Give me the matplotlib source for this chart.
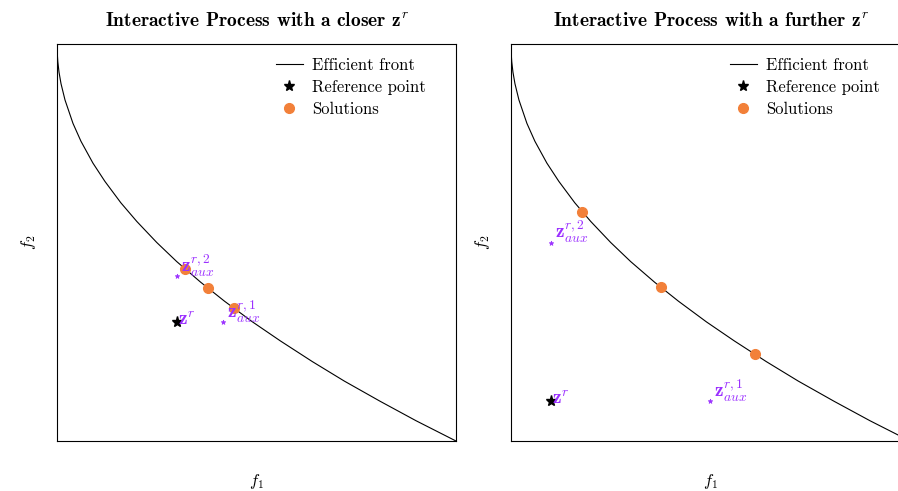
import matplotlib
matplotlib.use('Agg')
import matplotlib.pyplot as plt

plt.rcParams['font.family'] = 'serif'
plt.rcParams['font.serif'] = ['cmr10']
plt.rcParams['mathtext.fontset'] = 'cm'
plt.rcParams['axes.unicode_minus'] = False
plt.rcParams['axes.formatter.use_mathtext'] = True

# Frente eficiente
f1_front = [0, 0.0005, 0.002, 0.005, 0.01, 0.02, 0.04, 0.06, 0.09, 0.12, 0.16, 0.2,
            0.25, 0.3, 0.36, 0.42, 0.49, 0.56, 0.64, 0.72, 0.81, 0.9, 1.0]
f2_front = [1, 0.978, 0.955, 0.929, 0.9, 0.859, 0.8, 0.755, 0.7, 0.654, 0.6, 0.553,
            0.5, 0.452, 0.4, 0.352, 0.3, 0.252, 0.2, 0.151, 0.1, 0.051, 0]

titulos = [r'Interactive Process with a closer $\mathbf{z}^r$',
           r'Interactive Process with a further $\mathbf{z}^r$']

# Ponto de referência
ref_f1 = [0.30, 0.10]
ref_f2 = [0.30, 0.10]

# Pontos auxiliares (aux1, aux2)
aux_f1 = [[0.415, 0.30], [0.50, 0.10]]
aux_f2 = [[0.30, 0.416], [0.10, 0.50]]
aux_labels = [r'$\mathbf{z}^{r,1}_{aux}$', r'$\mathbf{z}^{r,2}_{aux}$']

# Soluções
sol_f1 = [[0.32, 0.378, 0.444], [0.178, 0.376, 0.612]]
sol_f2 = [[0.434, 0.385, 0.334], [0.578, 0.387, 0.218]]

cor_sol = '#f28039'
cor_aux = '#9b30ff'

fig = plt.figure(figsize=(8.98, 4.91), dpi=100)
posicoes = [[0.0635, 0.1018, 0.4443, 0.8086], [0.569, 0.1018, 0.4443, 0.8086]]

for i in range(2):
    ax = fig.add_axes(posicoes[i])
    ax.plot(f1_front, f2_front, color='k', linewidth=0.8, label='Efficient front')
    ax.plot(ref_f1[i], ref_f2[i], linestyle='none', marker='*', color='k',
            markersize=8, label='Reference point')
    ax.text(ref_f1[i] + 0.002, ref_f2[i] - 0.008, r'$\mathbf{z}^r$', color=cor_aux, fontsize=14)
    for j in range(2):
        ax.plot(aux_f1[i][j], aux_f2[i][j], linestyle='none', marker='*', color=cor_aux,
                markersize=3.5, markeredgewidth=0.5)
        ax.text(aux_f1[i][j] + 0.01, aux_f2[i][j] + 0.01, aux_labels[j], color=cor_aux,
                fontsize=14)
    ax.plot(sol_f1[i], sol_f2[i], linestyle='none', marker='o', color=cor_sol,
            markersize=7, label='Solutions')
    ax.set_xlim(0, 1)
    ax.set_ylim(0, 1)
    ax.set_xticks([])
    ax.set_yticks([])
    ax.set_xlabel('$f_1$', fontsize=12, labelpad=22)
    ax.set_ylabel('$f_2$', fontsize=12, labelpad=14)
    ax.set_title(titulos[i], fontsize=14, fontfamily='cmb10', pad=13)
    ax.legend(loc='upper right', bbox_to_anchor=(0.953, 0.995), frameon=False, fontsize=12,
              handlelength=1.6, handletextpad=0.55, borderaxespad=0.3, labelspacing=0.4)

plt.savefig('out.png', dpi=100)
plt.close()
